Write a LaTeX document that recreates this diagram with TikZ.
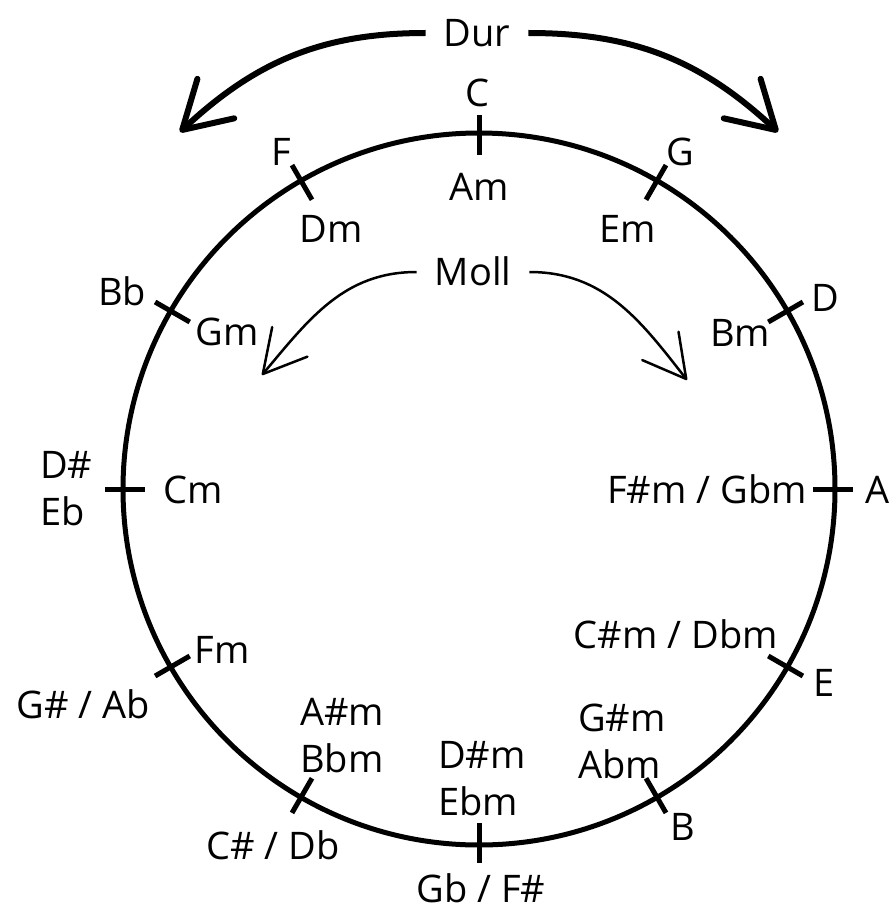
\documentclass[tikz,border=0pt]{standalone}
\usepackage{fontspec}
\setmainfont{Open Sans}
\usetikzlibrary{arrows.meta}

\begin{document}
\begin{tikzpicture}[x=1pt, y=1pt,
  chord/.style={font=\fontsize{38}{47}\selectfont, inner sep=0pt, text height=27pt, text depth=0pt},
  chords/.style={font=\fontsize{38}{47}\selectfont, inner sep=0pt, align=left},
  rim/.style={line width=5pt},
  notch/.style={line width=5pt},
  dur arrow/.style={line width=6pt, -{Straight Barb[round,length=46pt,width=54pt]}},
  moll arrow/.style={line width=2.5pt, -{Straight Barb[round,length=42pt,width=46pt]}}]
  \useasboundingbox (0,0) rectangle (891,-912);
  \coordinate (ctr) at (479,-489);
  \draw[rim] (ctr) circle[radius=356];
  \foreach \a in {0,30,...,330}
    \draw[notch, shift={(ctr)}] (\a:334) -- (\a:374);

  \node[chord] (C) at (477,-93) {C};
  \node[chord] (Am) at (479,-187) {Am};
  \node[chord] (G) at (680,-152) {G};
  \node[chord] (Em) at (628,-229) {Em};
  \node[chord] (D) at (825,-298) {D};
  \node[chord] (Bm) at (740,-333) {Bm};
  \node[chord] (A) at (878,-490) {A};
  \node[chord, anchor=east] (Fsm) at (807,-490) {F\#m / Gbm};
  \node[chord] (E) at (824,-683) {E};
  \node[chord, anchor=east] (Csm) at (778,-635) {C\#m / Dbm};
  \node[chord] (B) at (683,-827) {B};
  \node[chords, anchor=west] (Gsm) at (578,-741) {G\#m\\Abm};
  \node[chord] (Gb) at (481,-889) {Gb / F\#};
  \node[chords, anchor=west] (Dsm) at (438,-779) {D\#m\\Ebm};
  \node[chord] (Cs) at (273,-846) {C\# / Db};
  \node[chords, anchor=west] (Asm) at (300,-736) {A\#m\\Bbm};
  \node[chord, anchor=east] (Gs) at (150,-705) {G\# / Ab};
  \node[chord] (Fm) at (222,-650) {Fm};
  \node[chords, anchor=west] (Ds) at (40,-489) {D\#\\Eb};
  \node[chord, anchor=west] (Cm) at (163,-490) {Cm};
  \node[chord] (Bb) at (122,-292) {Bb};
  \node[chord] (Gm) at (227,-332) {Gm};
  \node[chord] (F) at (281,-152) {F};
  \node[chord] (Dm) at (331,-229) {Dm};

  \node[chord, inner xsep=18pt] (dur) at (477,-33) {Dur};
  \node[chord, inner xsep=18pt] (moll) at (473,-272) {Moll};
  \coordinate (durL) at (180,-132);
  \coordinate (durR) at (778,-132);
  \coordinate (mollL) at (262,-375);
  \coordinate (mollR) at (687,-380);

  \path[dur arrow]
  (dur) edge[out=180, in=43] (durL)
        edge[out=0, in=137] (durR);
  \path[moll arrow]
  (moll) edge[out=180, in=50] (mollL)
         edge[out=0, in=128] (mollR);
\end{tikzpicture}
\end{document}
